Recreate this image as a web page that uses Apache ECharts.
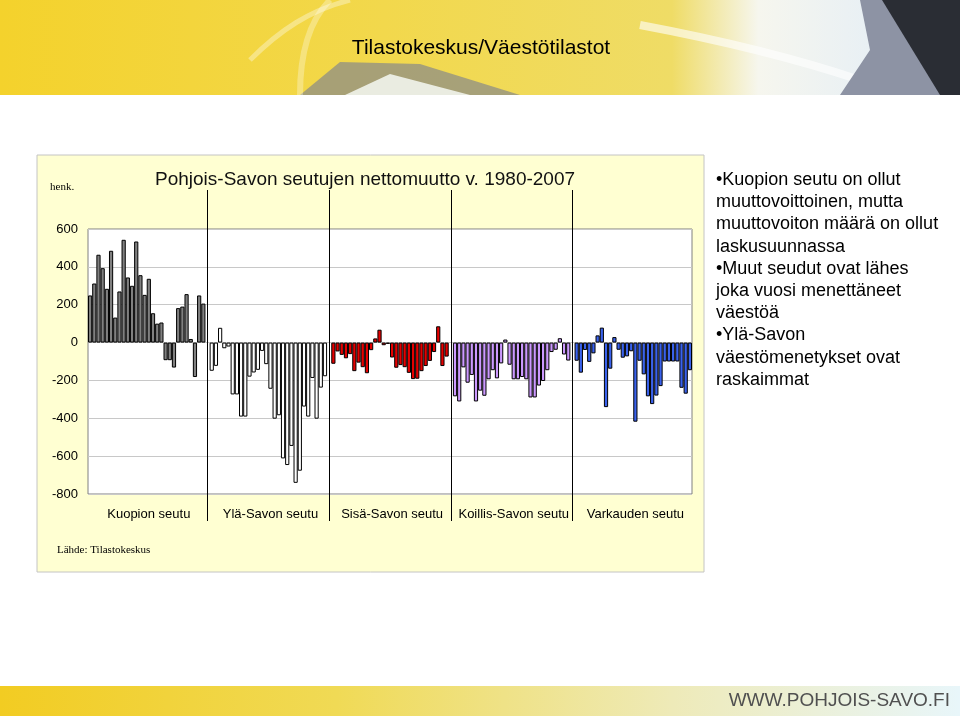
<!DOCTYPE html>
<html>
<head>
<meta charset="utf-8">
<script src="https://cdn.jsdelivr.net/npm/echarts@6/dist/echarts.min.js"></script>
<style>
html,body{margin:0;padding:0;background:#fff;}
#main{width:960px;height:716px;}
</style>
</head>
<body>
<div id="main"></div>
<script>
// ---- data (net migration, persons) ----
const years = ['1980','1981','1982','1983','1984','1985','1986','1987','1988','1989','1990','1991','1992','1993',
               '1994','1995','1996','1997','1998','1999','2000','2001','2002','2003','2004','2005','2006','2007'];
const regions = ['Kuopion seutu','Ylä-Savon seutu','Sisä-Savon seutu','Koillis-Savon seutu','Varkauden seutu'];
const kuopionSeutu   = [249,312,464,393,284,485,132,270,543,344,300,534,356,252,337,155,100,106,-93,-93,-132,182,190,256,19,-182,249,206];
const ylaSavonSeutu  = [-149,-123,78,-30,-21,-274,-274,-391,-391,-180,-158,-144,-44,-114,-244,-402,-384,-612,-647,-546,-741,-677,-338,-391,-187,-402,-238,-178];
const sisaSavonSeutu = [-112,-47,-65,-83,-61,-151,-106,-130,-162,-40,22,68,-14,-7,-79,-133,-119,-130,-160,-193,-191,-151,-124,-97,-50,86,-124,-74];
const koillisSavonSeutu = [-284,-311,-131,-212,-171,-311,-254,-281,-194,-146,-189,-110,16,-117,-194,-194,-182,-194,-290,-290,-227,-203,-146,-50,-38,23,-63,-95];
const varkaudenSeutu = [-96,-159,-39,-102,-57,38,79,-341,-138,29,-38,-80,-73,-46,-418,-96,-168,-284,-325,-280,-230,-100,-100,-100,-100,-239,-270,-146];
const yMin = -800, yMax = 600, yStep = 200;

const seriesValues = [kuopionSeutu, ylaSavonSeutu, sisaSavonSeutu, koillisSavonSeutu, varkaudenSeutu];
const colors = ['#808080','#ffffff','#e60000','#cc99ff','#3a62ec'];

// ---- build the category axis: 28 years per region, one empty slot between regions ----
const slot = years.length + 1;
const categories = [];
const regionOfIndex = [];
regions.forEach((r, ri) => {
  years.forEach(y => { categories.push(r + ' ' + y); regionOfIndex.push(ri); });
  if (ri < regions.length - 1) { categories.push('gap' + ri); regionOfIndex.push(-1); }
});
const series = seriesValues.map((vals, ri) => {
  const data = categories.map(() => null);
  vals.forEach((v, yi) => { data[ri * slot + yi] = v; });
  return {
    name: regions[ri], type: 'bar', stack: 'all', data: data,
    barCategoryGap: '0%',
    itemStyle: { color: colors[ri], borderColor: '#000', borderWidth: 1 },
    emphasis: { disabled: true }
  };
});

const FONT = "'Liberation Sans', Arial, sans-serif";
const chart = echarts.init(document.getElementById('main'), null, { renderer: 'canvas' });

const headerGraphics = [
  { type: 'rect', z: -10, shape: { x: 0, y: 0, width: 960, height: 95 },
    style: { fill: new echarts.graphic.LinearGradient(0, 0, 1, 0, [
      { offset: 0, color: '#f4d22c' }, { offset: 0.4, color: '#f2d84c' },
      { offset: 0.7, color: '#efdc66' }, { offset: 0.79, color: '#f6f6ee' },
      { offset: 0.9, color: '#e9f0f4' }, { offset: 1, color: '#dfe6ec' }]) } },
  { type: 'polygon', z: -9, shape: { points: [[300, 95], [340, 62], [420, 64], [520, 95]] },
    style: { fill: '#8e8e86', opacity: 0.75 } },
  { type: 'polygon', z: -9, shape: { points: [[345, 95], [390, 74], [470, 95]] },
    style: { fill: '#f2f4ec', opacity: 0.9 } },
  { type: 'bezierCurve', z: -9, shape: { x1: 300, y1: 95, x2: 330, y2: 0, cpx1: 300, cpy1: 50, cpx2: 310, cpy2: 20 },
    style: { stroke: '#ffffff', lineWidth: 6, opacity: 0.3, fill: null } },
  { type: 'bezierCurve', z: -9, shape: { x1: 250, y1: 60, x2: 350, y2: 0, cpx1: 280, cpy1: 30, cpx2: 310, cpy2: 10 },
    style: { stroke: '#ffffff', lineWidth: 5, opacity: 0.35, fill: null } },
  { type: 'bezierCurve', z: -9, shape: { x1: 640, y1: 25, x2: 860, y2: 80, cpx1: 720, cpy1: 40, cpx2: 800, cpy2: 60 },
    style: { stroke: '#ffffff', lineWidth: 8, opacity: 0.6, fill: null } },
  { type: 'polygon', z: -9, shape: { points: [[860, 0], [960, 0], [960, 95], [840, 95], [870, 50]] },
    style: { fill: '#8d93a4' } },
  { type: 'polygon', z: -8, shape: { points: [[882, 0], [960, 0], [960, 95], [940, 95]] },
    style: { fill: '#2a2d34' } },
  { type: 'text', z: 5, style: { text: 'Tilastokeskus/Väestötilastot', x: 481, y: 48,
    align: 'center', verticalAlign: 'middle', font: '21px ' + FONT, fill: '#000' } }
];

const footerGraphics = [
  { type: 'rect', z: -10, shape: { x: 0, y: 686, width: 960, height: 30 },
    style: { fill: new echarts.graphic.LinearGradient(0, 0, 1, 0, [
      { offset: 0, color: '#f2cc22' }, { offset: 0.35, color: '#f0da55' },
      { offset: 0.7, color: '#eeeab8' }, { offset: 1, color: '#e8f6fa' }]) } },
  { type: 'text', z: 5, style: { text: 'WWW.POHJOIS-SAVO.FI', x: 950, y: 701,
    align: 'right', verticalAlign: 'middle', font: '19px ' + FONT, fill: '#505050' } }
];

const panelGraphics = [
  { type: 'rect', z: -10, shape: { x: 37, y: 155, width: 667, height: 417 },
    style: { fill: '#ffffd2', stroke: '#c4c4c4', lineWidth: 1 } },
  { type: 'text', z: 5, style: { text: 'henk.', x: 50, y: 187, verticalAlign: 'middle',
    font: "11px 'Liberation Serif', 'Times New Roman', serif", fill: '#000' } },
  { type: 'text', z: 5, style: { text: 'Lähde: Tilastokeskus', x: 57, y: 550, verticalAlign: 'middle',
    font: "11px 'Liberation Serif', 'Times New Roman', serif", fill: '#000' } }
];

const sideText = [
  '•Kuopion seutu on ollut',
  'muuttovoittoinen, mutta',
  'muuttovoiton määrä on ollut',
  'laskusuunnassa',
  '•Muut seudut ovat lähes',
  'joka vuosi menettäneet',
  'väestöä',
  '•Ylä-Savon',
  'väestömenetykset ovat',
  'raskaimmat'
];
const sideGraphics = [
  { type: 'text', z: 5, style: { text: sideText.join('\n'), x: 716, y: 169, verticalAlign: 'top',
    font: '18px ' + FONT, lineHeight: 22.2, fill: '#000' } }
];

chart.setOption({
  animation: false,
  backgroundColor: '#ffffff',
  title: {
    text: 'Pohjois-Savon seutujen nettomuutto v. 1980-2007',
    left: 155, top: 170, padding: 0,
    textStyle: { fontSize: 19, fontWeight: 'normal', color: '#111', fontFamily: FONT }
  },
  graphic: headerGraphics.concat(footerGraphics, panelGraphics, sideGraphics),
  grid: { left: 88, right: 268, top: 229, bottom: 222, show: true,
          backgroundColor: '#ffffff', borderColor: '#808080', borderWidth: 1 },
  xAxis: [
    {
      type: 'category', data: categories, position: 'bottom',
      axisLine: { show: false }, axisTick: { show: false }, splitLine: { show: false },
      axisLabel: {
        interval: (i) => regionOfIndex[i] >= 0 && (i % slot) === 14,
        formatter: (v, i) => regions[regionOfIndex[i]] || '',
        margin: 14, fontSize: 13, color: '#000', fontFamily: FONT
      }
    },
    {
      type: 'category', data: categories, position: 'top', offset: 39,
      axisLine: { show: false }, axisLabel: { show: false }, splitLine: { show: false },
      axisTick: { show: true, inside: true, length: 331, alignWithLabel: true,
                  interval: (i) => regionOfIndex[i] < 0,
                  lineStyle: { color: '#000', width: 1 } }
    }
  ],
  yAxis: {
    type: 'value', min: yMin, max: yMax, interval: yStep,
    axisLine: { show: false }, axisTick: { show: false },
    splitLine: { show: true, lineStyle: { color: '#c8c8c8', width: 1 } },
    axisLabel: { margin: 10, fontSize: 13, color: '#000', fontFamily: FONT }
  },
  series: series
});
</script>
</body>
</html>
